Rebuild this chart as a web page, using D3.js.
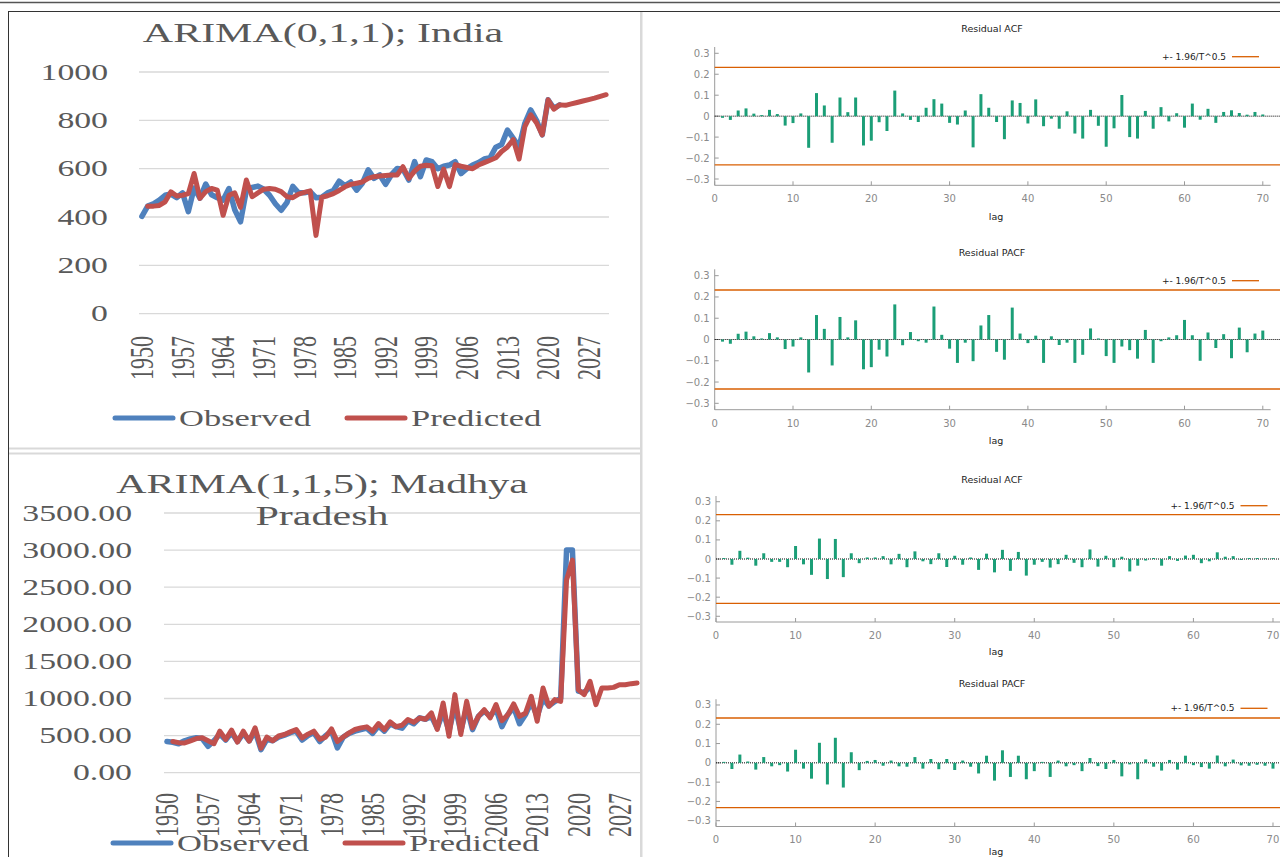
<!DOCTYPE html>
<html>
<head>
<meta charset="utf-8">
<script src="https://cdn.jsdelivr.net/npm/d3@7"></script>
<style>
  body { margin: 0; background: #fff; }
  svg { display: block; }
</style>
</head>
<body>
<div id="chart"></div>
<script>
// ---- data ----
var firstYear = 1950, lastYear = 2030;
var xTickYears = [1950, 1957, 1964, 1971, 1978, 1985, 1992, 1999, 2006, 2013, 2020, 2027];

// India, ARIMA(0,1,1): observed from 1950, predicted from 1951
var indiaObserved = [403,445,455,470,490,495,480,500,422,520,478,536,492,480,470,518,430,380,510,522,
  528,515,490,455,428,460,527,500,500,505,480,482,500,510,548,530,545,511,540,595,
  560,574,535,575,601,598,553,629,567,636,629,600,610,615,629,580,600,615,625,640,
  645,689,700,760,726,690,788,843,800,740,885,850,864];
var indiaPredicted = [445,445,448,463,504,487,490,497,580,477,505,518,511,407,490,500,440,553,484,500,
  515,518,515,505,484,480,495,502,508,324,482,488,497,510,525,535,540,545,560,567,
  570,572,574,574,608,560,590,610,614,612,526,598,526,617,610,605,600,615,625,635,
  645,671,690,720,640,774,823,790,740,885,846,864,862,868,874,880,886,892,899,906];
var indiaTicks = [0, 200, 400, 600, 800, 1000];

// Madhya Pradesh, ARIMA(1,1,5)
var mpObserved = [420,410,390,430,455,470,460,355,430,520,440,540,420,530,430,560,310,450,430,480,
  505,540,560,440,500,540,420,500,560,335,480,530,560,580,600,530,630,560,660,620,
  600,700,660,740,720,760,600,820,560,900,560,880,580,760,830,760,860,620,780,880,
  660,780,950,760,1000,900,960,1000,3000,3000,1100,1080,1150];
var mpPredicted = [420,405,400,430,460,470,430,390,560,448,573,412,560,425,605,330,480,430,495,515,
  550,582,470,520,560,450,480,591,420,480,537,582,604,618,560,662,580,685,620,640,
  716,680,738,720,806,582,940,492,1052,515,962,604,760,850,739,918,700,780,927,760,
  800,1030,694,1141,895,985,962,2596,2865,1119,1052,1231,918,1141,1141,1150,1186,1186,1200,1208];
var mpTicks = [0, 500, 1000, 1500, 2000, 2500, 3000, 3500];

// residual correlograms, lags 1..70
var nObs = 71;
var acfIndia = [-0.008,-0.018,0.027,0.037,0.012,0.005,0.03,0.01,-0.045,-0.033,0.013,-0.151,0.11,0.051,-0.127,0.089,0.019,0.089,-0.14,-0.117,
  -0.029,-0.071,0.122,0.013,-0.018,-0.028,0.04,0.081,0.06,-0.032,-0.04,0.027,-0.149,0.105,0.04,-0.028,-0.11,0.075,0.063,-0.035,
  0.08,-0.048,-0.012,-0.06,0.023,-0.083,-0.107,0.03,-0.046,-0.146,-0.058,0.101,-0.1,-0.107,0.025,-0.06,0.043,-0.025,0.014,-0.055,
  0.06,-0.017,0.035,-0.032,0.02,0.028,0.015,0.007,0.02,0.008];
var pacfIndia = [-0.01,-0.02,0.027,0.037,0.015,0.005,0.03,0.01,-0.045,-0.033,0.01,-0.155,0.115,0.05,-0.122,0.106,0.01,0.09,-0.14,-0.13,
  -0.048,-0.08,0.165,-0.027,0.035,-0.008,-0.015,0.155,0.022,-0.043,-0.11,-0.015,-0.102,0.066,0.115,-0.058,-0.095,0.15,0.028,-0.017,
  0.018,-0.11,0.015,-0.026,-0.015,-0.11,-0.072,0.052,0.005,-0.078,-0.11,-0.033,-0.05,-0.09,0.045,-0.11,-0.008,0.01,0.02,0.092,
  0.02,-0.1,0.033,-0.04,0.025,-0.088,0.056,-0.06,0.028,0.042];
var acfMP = [0.005,-0.03,0.043,0.007,-0.035,0.03,-0.015,-0.015,-0.043,0.068,-0.028,-0.083,0.107,-0.105,0.105,-0.095,0.03,-0.022,0.008,0.008,
  0.015,-0.028,0.027,-0.043,0.04,-0.012,-0.027,0.03,-0.042,0.017,-0.03,0.008,-0.057,0.028,-0.07,0.048,-0.062,0.037,-0.087,-0.03,
  -0.015,-0.045,-0.027,0.022,-0.02,-0.043,0.05,-0.04,0.017,-0.043,0.012,-0.065,-0.035,-0.008,0.005,-0.035,0.015,-0.01,0.018,0.022,
  -0.022,-0.012,0.035,0.012,0.015,-0.005,0.005,0.005,0.003,0.004];
var pacfMP = [0.005,-0.032,0.043,0.007,-0.035,0.03,-0.018,-0.012,-0.045,0.068,-0.03,-0.082,0.104,-0.112,0.13,-0.128,0.055,-0.038,0.01,0.015,
  -0.015,0.012,-0.018,-0.02,0.03,-0.03,0.02,-0.033,0.02,-0.037,0.012,-0.02,-0.055,0.037,-0.092,0.065,-0.073,0.037,-0.085,-0.043,
  0.005,-0.073,0.012,-0.018,-0.012,-0.043,0.025,-0.017,-0.032,0.015,-0.07,-0.008,-0.085,0.018,-0.02,-0.04,0.015,-0.035,0.037,-0.012,
  -0.022,-0.03,0.038,-0.018,0.017,-0.013,-0.015,-0.01,-0.015,-0.03];
var corrTicks = [-0.3, -0.2, -0.1, 0, 0.1, 0.2, 0.3];
var lagTicks = [0, 10, 20, 30, 40, 50, 60, 70];

var W = 1280, H = 857;
var SX = 1.5;   // the excel charts are stretched sideways in the picture
var serif = "'Liberation Serif', 'Times New Roman', serif";
var sans = "'DejaVu Sans', sans-serif";
var blue = "#4f81bd", red = "#c0504d";
var green = "#1b9e77", orange = "#d95f02";

var svg = d3.select("#chart").append("svg")
    .attr("width", W)
    .attr("height", H);

svg.append("rect").attr("width", W).attr("height", H).attr("fill", "#fff");

// frame lines of the page
svg.append("line").attr("x1", 0).attr("x2", W).attr("y1", 2.5).attr("y2", 2.5)
    .attr("stroke", "#555").attr("stroke-width", 1.5);
svg.append("line").attr("x1", 8).attr("x2", W).attr("y1", 11.5).attr("y2", 11.5)
    .attr("stroke", "#333").attr("stroke-width", 1);
svg.append("line").attr("x1", 8.5).attr("x2", 8.5).attr("y1", 11.5).attr("y2", H)
    .attr("stroke", "#333").attr("stroke-width", 1);
svg.append("rect").attr("x", 640).attr("y", 12).attr("width", 2.5).attr("height", H - 12)
    .attr("fill", "#d9d9d9");
svg.append("rect").attr("x", 9).attr("y", 447.5).attr("width", 633).attr("height", 2)
    .attr("fill", "#d9d9d9");
svg.append("rect").attr("x", 9).attr("y", 452.5).attr("width", 633).attr("height", 2)
    .attr("fill", "#d9d9d9");

function stretchedText(g, x, y, txt, size, anchor, rot) {
  return g.append("text")
      .attr("transform", "translate(" + x + "," + y + ") scale(" + SX + ",1)" + (rot ? " rotate(" + rot + ")" : ""))
      .attr("text-anchor", anchor)
      .style("font-family", serif)
      .style("font-size", size + "px")
      .attr("fill", "#595959")
      .text(txt);
}

function toSeries(values, start) {
  return values.map(function(v, i) { return {year: start + i, value: v}; });
}

function lineChart(opt) {
  var g = svg.append("g");
  var years = d3.range(firstYear, lastYear + 1);

  var x = d3.scaleBand()
      .domain(years)
      .range([opt.left, opt.right]);
  var y = d3.scaleLinear()
      .domain([0, opt.ticks[opt.ticks.length - 1]])
      .range([opt.bottom, opt.top]);
  var cx = function(yr) { return x(yr) + x.bandwidth() / 2; };

  // gridlines
  g.selectAll(".grid")
    .data(opt.ticks)
    .enter().append("line")
      .attr("x1", opt.left).attr("x2", opt.right)
      .attr("y1", function(d) { return y(d); })
      .attr("y2", function(d) { return y(d); })
      .attr("stroke", "#d9d9d9")
      .attr("stroke-width", 1.3);

  opt.ticks.forEach(function(t) {
    stretchedText(g, opt.labelRight, y(t), opt.fmt(t), 22.5, "end")
        .attr("dy", "0.34em");
  });

  xTickYears.forEach(function(yr) {
    stretchedText(g, cx(yr), opt.xLabelTop, String(yr), 22, "end", -90)
        .attr("dy", "0.34em");
  });

  var line = d3.line()
      .x(function(d) { return cx(d.year); })
      .y(function(d) { return y(d.value); });

  g.append("path")
      .datum(toSeries(opt.observed, firstYear))
      .attr("fill", "none")
      .attr("stroke", blue)
      .attr("stroke-width", 5.5)
      .attr("stroke-linejoin", "round")
      .attr("stroke-linecap", "round")
      .attr("d", line);

  g.append("path")
      .datum(toSeries(opt.predicted, firstYear + 1))
      .attr("fill", "none")
      .attr("stroke", red)
      .attr("stroke-width", 5)
      .attr("stroke-linejoin", "round")
      .attr("stroke-linecap", "round")
      .attr("d", line);

  opt.title.forEach(function(t, i) {
    stretchedText(g, opt.titleX, opt.titleY + i * 32, t, 28, "middle");
  });

  // legend
  var lg = opt.legend;
  g.append("line").attr("x1", lg.x1).attr("x2", lg.x1 + 58).attr("y1", lg.y).attr("y2", lg.y)
      .attr("stroke", blue).attr("stroke-width", 5).attr("stroke-linecap", "round");
  stretchedText(g, lg.x1 + 64, lg.y, "Observed", 23, "start").attr("dy", "0.33em");
  g.append("line").attr("x1", lg.x2).attr("x2", lg.x2 + 58).attr("y1", lg.y).attr("y2", lg.y)
      .attr("stroke", red).attr("stroke-width", 5).attr("stroke-linecap", "round");
  stretchedText(g, lg.x2 + 64, lg.y, "Predicted", 23, "start").attr("dy", "0.33em");
}

lineChart({
  left: 139, right: 609, top: 72, bottom: 313.7,
  ticks: indiaTicks, fmt: d3.format("d"),
  labelRight: 108, xLabelTop: 336,
  observed: indiaObserved, predicted: indiaPredicted,
  title: ["ARIMA(0,1,1); India"], titleX: 323, titleY: 42,
  legend: {x1: 115, x2: 347, y: 418}
});

lineChart({
  left: 164, right: 640, top: 513, bottom: 772.7,
  ticks: mpTicks, fmt: d3.format(".2f"),
  labelRight: 132, xLabelTop: 793,
  observed: mpObserved, predicted: mpPredicted,
  title: ["ARIMA(1,1,5); Madhya", "Pradesh"], titleX: 322, titleY: 493,
  legend: {x1: 113, x2: 345, y: 843}
});

// ---- residual correlograms ----
function corrPlot(opt) {
  var g = svg.append("g");
  var x = d3.scaleLinear().domain([0, 71]).range([opt.x0, opt.x0 + 71 * opt.step]);
  var y = d3.scaleLinear().domain([-0.33, 0.33]).range([opt.bottom, opt.top]);
  var band = 1.96 / Math.sqrt(nObs);

  g.append("text")
      .attr("x", 992).attr("y", opt.titleY)
      .attr("text-anchor", "middle").attr("dy", "0.35em")
      .style("font-family", sans).style("font-size", "9.5px")
      .attr("fill", "#222")
      .text(opt.title);

  // axes
  g.append("line").attr("x1", opt.x0).attr("x2", opt.x0)
      .attr("y1", opt.top).attr("y2", opt.bottom)
      .attr("stroke", "#9a9a9a");
  g.append("line").attr("x1", opt.x0).attr("x2", x(71))
      .attr("y1", opt.bottom).attr("y2", opt.bottom)
      .attr("stroke", "#9a9a9a");

  corrTicks.forEach(function(t) {
    g.append("line").attr("x1", opt.x0).attr("x2", opt.x0 + 4)
        .attr("y1", y(t)).attr("y2", y(t)).attr("stroke", "#9a9a9a");
    g.append("text")
        .attr("x", opt.x0 - 5).attr("y", y(t)).attr("dy", "0.35em")
        .attr("text-anchor", "end")
        .style("font-family", sans).style("font-size", "10px")
        .attr("fill", "#8a8a8a")
        .text(t === 0 ? "0" : d3.format(".1f")(t));
  });
  lagTicks.forEach(function(t) {
    g.append("line").attr("x1", x(t)).attr("x2", x(t))
        .attr("y1", opt.bottom).attr("y2", opt.bottom - 4).attr("stroke", "#9a9a9a");
    g.append("text")
        .attr("x", x(t)).attr("y", opt.xLabelY).attr("dy", "0.35em")
        .attr("text-anchor", "middle")
        .style("font-family", sans).style("font-size", "10px")
        .attr("fill", "#8a8a8a")
        .text(t);
  });
  g.append("text")
      .attr("x", 996).attr("y", opt.lagY).attr("dy", "0.35em")
      .attr("text-anchor", "middle")
      .style("font-family", sans).style("font-size", "9.5px")
      .attr("fill", "#222")
      .text("lag");

  // confidence band
  [band, -band].forEach(function(b) {
    g.append("line").attr("x1", opt.x0).attr("x2", W)
        .attr("y1", y(b)).attr("y2", y(b))
        .attr("stroke", orange).attr("stroke-width", 1.3);
  });

  // zero line
  g.append("line").attr("x1", opt.x0).attr("x2", W)
      .attr("y1", y(0)).attr("y2", y(0))
      .attr("stroke", "#000").attr("stroke-width", 1)
      .attr("stroke-dasharray", "1,1");

  g.selectAll(".bar")
    .data(opt.values)
    .enter().append("line")
      .attr("x1", function(d, i) { return x(i + 1); })
      .attr("x2", function(d, i) { return x(i + 1); })
      .attr("y1", y(0))
      .attr("y2", function(d) { return y(d); })
      .attr("stroke", green)
      .attr("stroke-width", 3);

  // legend
  g.append("text")
      .attr("x", opt.legendX).attr("y", opt.legendY).attr("dy", "0.35em")
      .attr("text-anchor", "end")
      .style("font-family", sans).style("font-size", "9px")
      .attr("fill", "#222")
      .text("+- 1.96/T^0.5");
  g.append("line").attr("x1", opt.legendX + 6).attr("x2", opt.legendX + 33)
      .attr("y1", opt.legendY).attr("y2", opt.legendY)
      .attr("stroke", orange).attr("stroke-width", 1.3);
}

corrPlot({title: "Residual ACF", values: acfIndia, x0: 714.7, step: 7.83,
  top: 47, bottom: 185.3, titleY: 29, xLabelY: 198.5, lagY: 216.5, legendX: 1226, legendY: 56.7});
corrPlot({title: "Residual PACF", values: pacfIndia, x0: 714.7, step: 7.83,
  top: 269.3, bottom: 409.7, titleY: 252.7, xLabelY: 423, lagY: 440.7, legendX: 1226, legendY: 280.7});
corrPlot({title: "Residual ACF", values: acfMP, x0: 716, step: 7.957,
  top: 496, bottom: 622, titleY: 480, xLabelY: 635, lagY: 652, legendX: 1234.5, legendY: 505.7});
corrPlot({title: "Residual PACF", values: pacfMP, x0: 716, step: 7.957,
  top: 699.2, bottom: 826.5, titleY: 683.3, xLabelY: 839.3, lagY: 852, legendX: 1234.5, legendY: 708.3});
</script>
</body>
</html>
